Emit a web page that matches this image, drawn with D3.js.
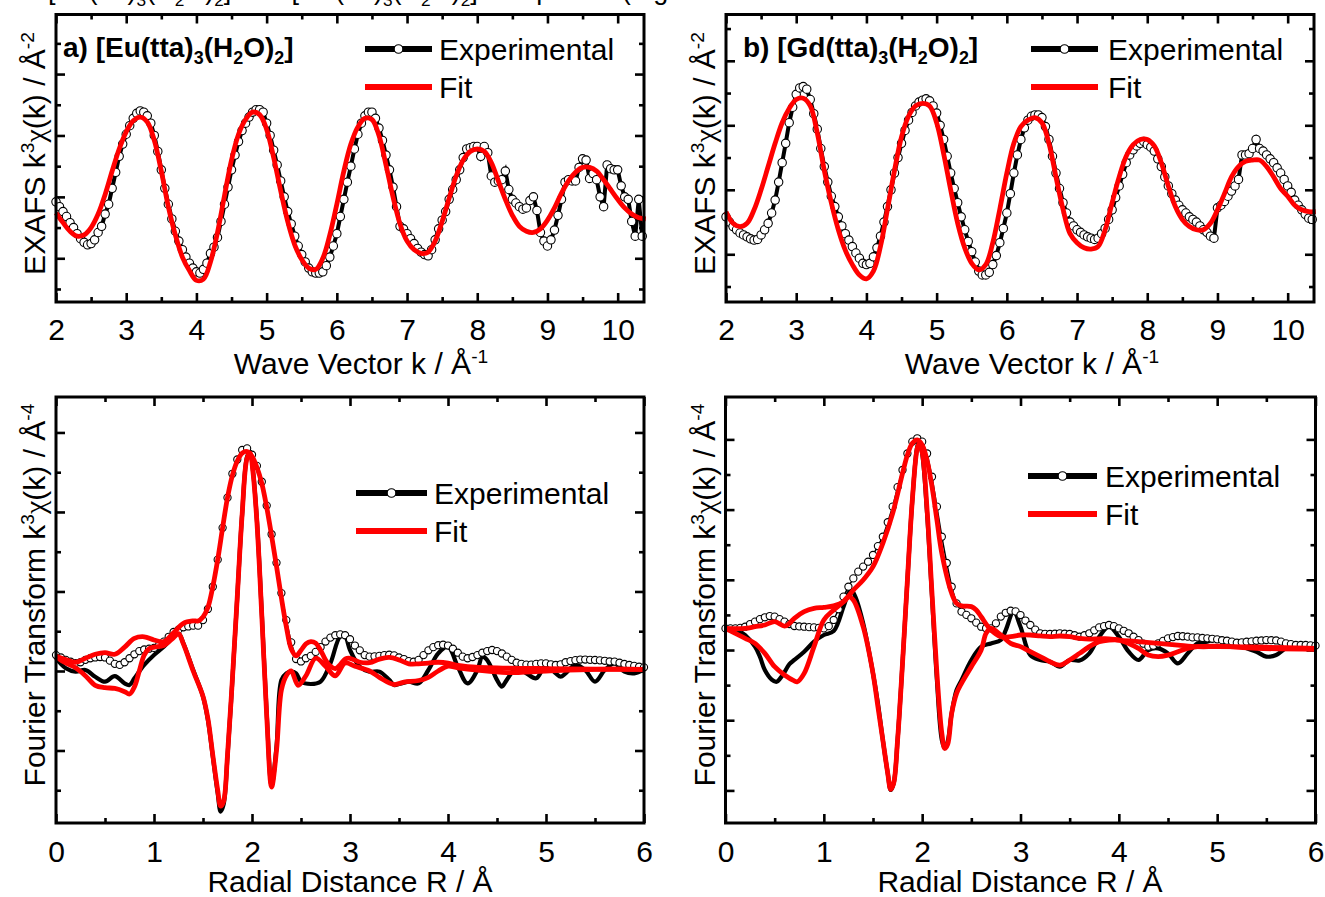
<!DOCTYPE html>
<html>
<head>
<meta charset="utf-8">
<script src="https://cdn.jsdelivr.net/npm/d3@7/dist/d3.min.js"></script>
<style>
  body { margin: 0; background: #fff; }
  svg text { font-family: "Liberation Sans", Arial, sans-serif; fill: #000; }
</style>
</head>
<body>
<svg id="chart" width="1325" height="897"></svg>
<script>
// ---------- data ----------
// EXAFS, k grid: experimental every 0.05 from 2.00, fit every 0.1 from 2.0
const kStart = 2.0, kExpStep = 0.05, kFitStep = 0.1;
const kTicks = [2, 3, 4, 5, 6, 7, 8, 9, 10];
const rTicks = [0, 1, 2, 3, 4, 5, 6];
const rStart = 0, rStep = 0.05;

const euChiExp = [
  -0.4,-0.8,-1.2,-1.6,-2.1,-2.5,-3.0,-3.4,-3.7,-3.9,
  -3.8,-3.5,-2.9,-2.4,-1.4,-0.6,0.7,2.0,3.3,4.3,
  5.1,5.8,6.4,6.8,7.0,6.9,6.6,6.0,5.0,3.7,
  2.2,0.7,-0.6,-1.8,-2.8,-3.6,-4.3,-4.9,-5.4,-5.8,
  -6.1,-6.2,-5.9,-5.4,-4.6,-4.1,-3.3,-2.0,-0.6,0.8,
  2.2,3.4,4.5,5.4,6.0,6.5,6.9,7.1,7.1,6.9,
  6.0,5.0,3.8,2.6,1.3,0.0,-1.2,-2.2,-3.2,-4.0,
  -4.7,-5.3,-5.8,-6.1,-6.2,-6.2,-6.1,-5.6,-4.9,-4.0,
  -3.0,-1.6,-0.2,1.2,2.5,3.9,5.1,6.0,6.6,6.9,
  6.9,6.4,5.6,4.6,3.4,2.2,0.8,-0.8,-2.4,-2.6,
  -3.0,-3.4,-3.8,-4.2,-4.5,-4.7,-4.8,-4.3,-3.5,-2.6,
  -1.9,-1.2,-0.2,0.6,1.4,2.2,3.2,3.9,4.0,4.1,
  4.1,3.3,4.1,3.6,1.7,1.2,1.3,1.4,2.1,0.6,
  -0.2,-0.5,-0.8,-1.0,-0.9,-0.3,0.0,-1.1,-2.9,-3.6,
  -4.0,-3.5,-2.7,-1.5,-0.2,1.2,1.4,1.3,1.3,2.4,
  3.1,3.0,1.5,1.9,1.4,0.0,-0.8,2.6,2.3,2.2,
  2.2,0.9,0.0,-0.2,-2.0,-3.2,-0.2,-3.2
];
const euChiFit = [
  -1.3,-2.1,-2.8,-3.2,-3.1,-2.5,-1.4,0.2,2.1,3.9,
  5.3,6.2,6.5,6.1,4.6,2.1,-0.8,-3.1,-4.9,-6.0,
  -6.8,-6.7,-5.3,-2.9,0.1,3.0,5.1,6.3,6.9,6.7,
  5.5,3.2,0.5,-2.0,-3.9,-5.1,-5.8,-5.9,-5.0,-3.1,
  -0.6,2.1,4.3,5.7,6.4,6.3,5.0,2.6,0.0,-2.2,
  -3.6,-4.3,-4.6,-4.5,-3.6,-2.0,-0.1,1.7,3.0,3.7,
  3.9,3.7,2.8,1.3,-0.2,-1.5,-2.4,-2.8,-2.9,-2.6,
  -1.9,-0.9,0.3,1.3,2.0,2.4,2.4,2.1,1.4,0.6,
  -0.2,-0.9,-1.4,-1.7,-1.8
];
const gdChiExp = [
  -2.1,-2.5,-2.85,-3.1,-3.35,-3.5,-3.65,-3.8,-3.9,-3.85,
  -3.5,-3.1,-2.6,-1.8,-0.8,0.6,2.1,3.6,5.2,6.4,
  7.4,7.9,8.0,7.8,7.0,5.9,4.7,3.2,1.8,0.6,
  -0.5,-1.3,-2.1,-2.8,-3.4,-3.9,-4.4,-4.9,-5.3,-5.7,
  -5.8,-5.7,-5.2,-4.5,-3.6,-2.5,-1.3,0.0,1.3,2.5,
  3.6,4.6,5.4,6.0,6.5,6.8,6.95,7.05,6.9,6.5,
  5.95,5.0,3.9,2.6,1.3,0.1,-1.0,-2.1,-3.1,-4.0,
  -4.8,-5.6,-6.3,-6.6,-6.6,-6.4,-5.8,-5.1,-4.1,-3.0,
  -1.8,-0.3,1.3,2.7,3.9,4.8,5.4,5.7,5.8,5.8,
  5.6,4.9,3.9,2.6,1.3,0.1,-1.0,-1.8,-2.5,-2.8,
  -3.1,-3.3,-3.5,-3.65,-3.75,-3.85,-3.75,-3.4,-3.0,-2.3,
  -1.55,-0.6,0.3,1.2,2.1,2.7,3.1,3.4,3.6,3.75,
  3.5,3.3,3.0,2.4,1.8,1.0,0.3,-0.3,-0.8,-1.2,
  -1.55,-1.8,-2.1,-2.3,-2.5,-2.8,-3.1,-3.3,-3.6,-3.75,
  -1.4,-1.2,-0.9,-0.5,-0.1,0.3,0.8,2.7,2.7,2.8,
  3.2,3.9,3.2,3.0,2.7,2.4,2.1,1.7,1.3,0.8,
  0.3,-0.2,-0.8,-1.2,-1.55,-1.9,-2.2,-2.3
];
const gdChiFit = [
  -1.7,-2.6,-2.85,-2.6,-1.55,0.0,1.8,3.6,5.2,6.3,
  7.0,7.1,6.5,4.4,1.5,-1.0,-3.1,-4.7,-5.8,-6.6,
  -6.9,-6.3,-4.4,-1.5,1.5,4.1,5.7,6.5,6.7,6.5,
  5.2,2.8,0.0,-2.6,-4.5,-5.7,-6.2,-5.8,-4.1,-1.5,
  1.3,3.6,4.9,5.4,5.6,5.2,3.6,1.0,-1.5,-3.4,
  -4.1,-4.5,-4.6,-4.4,-3.1,-1.0,1.0,2.6,3.5,3.9,
  3.9,3.4,2.1,0.3,-1.3,-2.3,-2.85,-3.1,-3.1,-2.6,
  -1.55,-0.3,1.0,1.8,2.2,2.3,2.3,1.8,1.0,0.1,
  -0.5,-1.2,-1.55,-1.7,-1.7
];

// Fourier transforms: experimental magnitude every 0.05 from R = 0
const euFtMag = [
  1.00,0.85,0.70,0.58,0.50,0.55,0.70,0.80,0.85,0.88,
  0.85,0.65,0.45,0.38,0.55,0.80,1.05,1.25,1.35,1.40,
  1.45,1.60,1.85,2.15,2.45,2.60,2.75,2.80,2.85,2.85,
  3.20,3.90,5.30,7.00,9.00,10.9,12.4,13.3,13.9,14.0,
  13.6,12.9,11.9,10.4,8.6,6.8,4.9,3.2,1.8,0.75,
  0.60,0.80,0.95,1.20,1.50,1.85,2.10,2.25,2.30,2.25,
  2.00,1.60,1.30,1.00,0.90,0.92,0.95,1.00,1.02,0.98,
  0.85,0.75,0.62,0.58,0.70,1.00,1.30,1.50,1.62,1.65,
  1.60,1.40,1.15,0.90,0.80,0.88,1.00,1.15,1.25,1.32,
  1.25,1.10,0.90,0.70,0.52,0.45,0.40,0.40,0.45,0.48,
  0.48,0.42,0.38,0.42,0.55,0.62,0.68,0.72,0.72,0.70,
  0.69,0.67,0.64,0.60,0.59,0.52,0.44,0.38,0.32,0.27,
  0.23
];
// imaginary parts and fits as [R, value] pairs
const euFtIm = [[0,0.8],[0.1,0.17],[0.2,-0.04],[0.3,0.06],[0.4,-0.36],[0.5,-0.67],[0.6,-0.32],[0.7,-0.78],[0.75,-0.88],[0.8,-0.46],[0.9,0.38],[1.0,1.01],[1.1,1.53],[1.2,2.16],[1.25,2.37],[1.3,1.74],[1.4,0.06],[1.5,-1.61],[1.55,-3.08],[1.6,-5.38],[1.65,-7.69],[1.68,-8.84],[1.71,-8.4],[1.75,-5.38],[1.8,-0.56],[1.85,4.68],[1.9,9.92],[1.95,13.48],[1.98,13.8],[2.01,12.6],[2.05,9.5],[2.1,3.63],[2.15,-2.66],[2.2,-7.2],[2.25,-4.76],[2.3,-0.56],[2.35,-0.15],[2.4,-0.04],[2.45,-0.15],[2.5,-0.67],[2.6,-0.82],[2.7,-0.67],[2.8,0.48],[2.9,2.16],[2.95,2.16],[3.0,1.32],[3.1,0.27],[3.2,-0.04],[3.3,-0.04],[3.4,-0.56],[3.45,-0.88],[3.5,-0.82],[3.6,-0.67],[3.7,-0.78],[3.8,0.06],[3.9,1.11],[4.0,1.53],[4.1,0.27],[4.2,-0.78],[4.3,0.06],[4.35,0.9],[4.4,0.69],[4.5,-0.56],[4.55,-0.98],[4.6,-0.56],[4.7,0.17],[4.8,-0.15],[4.9,-0.46],[5.0,0.38],[5.1,-0.15],[5.15,-0.36],[5.2,-0.15],[5.3,0.38],[5.4,0.06],[5.5,-0.67],[5.6,0.06],[5.7,0.48],[5.8,-0.04],[5.9,-0.15],[6.0,0.1]];
const euFitMag = [[0,0.95],[0.1,0.72],[0.2,0.55],[0.3,0.8],[0.4,1.05],[0.5,1.15],[0.6,1.05],[0.7,1.5],[0.8,2.05],[0.9,2.15],[1.0,1.95],[1.1,1.85],[1.2,2.4],[1.3,3.0],[1.4,3.15],[1.45,3.15],[1.5,3.4],[1.55,4.0],[1.6,5.3],[1.65,7.0],[1.7,9.0],[1.75,10.9],[1.8,12.3],[1.85,13.2],[1.9,13.7],[1.95,13.8],[2.0,13.5],[2.05,12.8],[2.1,11.8],[2.15,10.3],[2.2,8.5],[2.25,6.6],[2.3,4.6],[2.35,2.8],[2.4,1.4],[2.45,0.95],[2.5,1.3],[2.55,1.7],[2.6,1.85],[2.65,1.75],[2.7,1.3],[2.75,0.7],[2.8,0.3],[2.85,0.15],[2.9,0.4],[2.95,0.75],[3.0,0.8],[3.1,0.55],[3.2,0.52],[3.3,0.75],[3.4,0.85],[3.5,0.7],[3.6,0.45],[3.7,0.45],[3.8,0.5],[3.9,0.55],[4.0,0.5],[4.1,0.35],[4.2,0.28],[4.5,0.2],[5.0,0.15],[5.5,0.12],[6.0,0.1]];
const euFitIm = [[0,0.9],[0.1,0.5],[0.2,0.2],[0.3,-0.3],[0.4,-0.9],[0.5,-1.05],[0.6,-1.1],[0.7,-1.3],[0.75,-1.45],[0.8,-1.0],[0.85,0.0],[0.9,1.0],[0.95,1.4],[1.0,1.5],[1.1,1.6],[1.2,2.1],[1.25,2.35],[1.3,1.7],[1.4,0.0],[1.5,-1.6],[1.55,-3.0],[1.6,-5.3],[1.65,-7.5],[1.68,-8.5],[1.71,-8.2],[1.75,-5.3],[1.8,-0.5],[1.85,4.7],[1.9,9.9],[1.95,13.4],[1.98,13.7],[2.01,12.5],[2.05,9.4],[2.1,3.5],[2.15,-2.8],[2.2,-7.3],[2.25,-5.0],[2.3,-1.2],[2.35,-0.3],[2.4,0.0],[2.47,-0.9],[2.55,-0.3],[2.65,0.8],[2.75,0.3],[2.85,-0.3],[2.95,0.5],[3.05,0.3],[3.2,0.0],[3.3,-0.4],[3.45,-0.85],[3.55,-0.7],[3.7,-0.6],[3.8,-0.4],[3.9,0.0],[4.0,0.3],[4.1,0.2],[4.3,0.05],[4.6,-0.1],[5.0,0.0],[5.5,0.1],[6.0,0.1]];

const gdFtMag = [
  1.54,1.54,1.54,1.58,1.66,1.85,2.02,2.2,2.33,2.42,
  2.38,2.2,2.02,1.85,1.71,1.68,1.66,1.63,1.61,1.58,
  1.54,1.7,2.14,2.9,3.8,4.51,5.1,5.58,5.94,6.29,
  6.77,7.4,8.07,9.1,10.21,11.6,12.82,14.0,14.84,15.08,
  14.84,14.0,12.34,10.21,8.07,6.2,4.51,3.32,2.73,2.5,
  2.26,1.95,1.66,1.55,1.54,1.9,2.38,2.65,2.80,2.75,
  2.49,2.1,1.78,1.45,1.19,1.15,1.14,1.16,1.19,1.16,
  1.14,1.05,0.95,1.05,1.19,1.4,1.61,1.7,1.78,1.7,
  1.54,1.37,1.19,0.95,0.71,0.45,0.24,0.3,0.47,0.65,
  0.83,0.92,1.0,0.98,0.95,0.9,0.9,0.86,0.83,0.8,
  0.76,0.7,0.66,0.6,0.52,0.55,0.59,0.62,0.66,0.68,
  0.71,0.7,0.68,0.6,0.47,0.42,0.36,0.36,0.36,0.33,
  0.31
];
const gdFtIm = [[0,1.54],[0.1,1.47],[0.2,1.07],[0.3,0.24],[0.35,-0.47],[0.4,-1.42],[0.47,-2.1],[0.52,-2.26],[0.58,-1.8],[0.65,-1.0],[0.7,-0.71],[0.8,-0.12],[0.9,0.59],[1.0,1.07],[1.1,1.35],[1.2,3.09],[1.25,4.04],[1.28,4.27],[1.32,3.8],[1.4,1.9],[1.5,-1.66],[1.55,-3.8],[1.6,-6.41],[1.65,-8.78],[1.68,-9.97],[1.71,-9.5],[1.75,-6.41],[1.8,-0.95],[1.85,4.99],[1.9,10.68],[1.95,14.48],[1.97,14.84],[2.0,14.0],[2.05,9.73],[2.1,3.8],[2.15,-2.14],[2.2,-6.41],[2.23,-7.0],[2.26,-6.5],[2.3,-4.51],[2.35,-2.85],[2.4,-2.14],[2.5,-0.71],[2.6,0.24],[2.7,0.47],[2.8,0.71],[2.85,1.42],[2.93,2.73],[3.0,1.66],[3.1,-0.36],[3.2,-0.71],[3.3,-0.83],[3.4,-1.19],[3.5,-0.71],[3.6,-0.75],[3.7,-0.24],[3.8,0.95],[3.9,1.66],[4.0,0.95],[4.1,-0.12],[4.2,-0.71],[4.3,0.0],[4.4,0.12],[4.5,-0.24],[4.6,-0.95],[4.7,-0.24],[4.8,0.47],[4.9,0.59],[5.0,0.83],[5.1,0.71],[5.2,0.36],[5.3,0.12],[5.4,-0.12],[5.5,-0.47],[5.6,-0.36],[5.7,0.12],[5.8,0.24],[6.0,0.24]];
const gdFitMag = [[0,1.54],[0.2,1.54],[0.3,1.66],[0.4,1.78],[0.5,2.02],[0.6,1.7],[0.65,1.9],[0.7,2.26],[0.8,2.73],[0.9,2.97],[1.0,3.04],[1.1,3.14],[1.2,3.44],[1.3,4.27],[1.4,4.99],[1.5,5.94],[1.6,7.6],[1.7,9.73],[1.8,12.58],[1.85,13.89],[1.9,14.72],[1.95,14.96],[2.0,14.6],[2.05,13.5],[2.1,11.63],[2.15,9.26],[2.2,6.89],[2.3,4.04],[2.35,3.32],[2.4,3.14],[2.5,3.09],[2.55,2.85],[2.6,2.37],[2.7,1.42],[2.8,0.95],[2.9,0.95],[3.0,1.07],[3.1,1.07],[3.2,1.0],[3.3,0.95],[3.4,1.0],[3.5,0.95],[3.6,0.83],[3.7,0.77],[3.8,0.8],[3.9,0.8],[4.0,0.71],[4.2,0.6],[4.4,0.47],[4.6,0.35],[4.8,0.24],[5.0,0.24],[5.5,0.2],[6.0,0.12]];
const gdFitIm = [[0,1.54],[0.1,1.19],[0.2,0.83],[0.3,0.47],[0.4,-0.24],[0.5,-1.19],[0.6,-1.78],[0.7,-2.2],[0.73,-2.26],[0.8,-1.66],[0.9,0.24],[1.0,2.14],[1.1,2.85],[1.2,3.44],[1.25,3.8],[1.3,3.56],[1.4,1.66],[1.5,-1.66],[1.55,-4.04],[1.6,-6.41],[1.65,-8.78],[1.68,-9.92],[1.71,-9.5],[1.75,-6.41],[1.8,-0.95],[1.85,4.99],[1.9,10.68],[1.95,14.37],[1.97,14.7],[2.0,14.1],[2.05,9.97],[2.1,4.04],[2.15,-1.66],[2.2,-5.94],[2.23,-7.0],[2.26,-6.7],[2.3,-4.51],[2.35,-3.09],[2.4,-2.37],[2.5,-1.19],[2.6,0.0],[2.65,1.19],[2.7,1.54],[2.8,1.07],[2.9,0.47],[3.0,0.24],[3.1,-0.12],[3.2,-0.47],[3.3,-0.83],[3.4,-1.07],[3.5,-0.71],[3.6,-0.24],[3.7,0.24],[3.8,0.59],[3.9,0.71],[4.0,0.71],[4.1,0.47],[4.2,0.12],[4.3,-0.36],[4.4,-0.47],[4.5,-0.36],[4.6,-0.12],[4.7,0.12],[4.8,0.24],[5.0,0.28],[5.4,0.12],[6.0,0.05]];

const legendNames = ["Experimental", "Fit"];

// ---------- drawing ----------
const svg = d3.select("#chart");
const RED = "#ff0000";

// text with super/subscripts: parts = [[text, +1 sup | -1 sub | 0, optional font]]
function rich(sel, parts, size) {
  let cur = 0;
  parts.forEach(([t, s, font]) => {
    const target = s === 1 ? -0.36 * size : s === -1 ? 0.25 * size : 0;
    const ts = sel.append("tspan")
      .attr("dy", target - cur)
      .attr("font-size", s ? size * 0.64 : size)
      .text(t);
    if (font) ts.attr("font-family", font);
    cur = target;
  });
  return sel;
}

function gridOf(start, step, vals) {
  return vals.map((v, i) => [start + i * step, v]);
}

function drawPanel(p) {
  const g = svg.append("g");
  const x = d3.scaleLinear().domain(p.xDomain).range([p.left, p.right]);
  const y = d3.scaleLinear().domain(p.yDomain).range([p.bottom, p.top]);

  const ax = (axis, tr, size) => g.append("g")
    .attr("transform", tr)
    .call(axis.tickSize(size))
    .call(s => s.select(".domain").remove())
    .call(s => s.selectAll(".tick line").attr("stroke", "#000").attr("stroke-width", 2.6));

  const xMinor = d3.range(p.xTicks[0] + 0.5, p.xDomain[1], 1);
  // bottom axis with labels
  ax(d3.axisBottom(x).tickValues(p.xTicks).tickPadding(p.labelPad).tickFormat(d3.format("d")),
     `translate(0,${p.bottom})`, -9)
    .selectAll("text").attr("font-size", 30).attr("font-family", "Liberation Sans, Arial, sans-serif");
  ax(d3.axisBottom(x).tickValues(xMinor).tickFormat(""), `translate(0,${p.bottom})`, -5);
  ax(d3.axisTop(x).tickValues(p.xTicks).tickFormat(""), `translate(0,${p.top})`, -9);
  ax(d3.axisTop(x).tickValues(xMinor).tickFormat(""), `translate(0,${p.top})`, -5);
  ax(d3.axisLeft(y).tickValues(p.yMajor).tickFormat(""), `translate(${p.left},0)`, -9);
  ax(d3.axisLeft(y).tickValues(p.yMinor).tickFormat(""), `translate(${p.left},0)`, -5);
  ax(d3.axisRight(y).tickValues(p.yMajor).tickFormat(""), `translate(${p.right},0)`, -9);
  ax(d3.axisRight(y).tickValues(p.yMinor).tickFormat(""), `translate(${p.right},0)`, -5);

  const straight = d3.line().x(d => x(d[0])).y(d => y(d[1]));
  const smooth = d3.line().x(d => x(d[0])).y(d => y(d[1])).curve(d3.curveCatmullRom.alpha(0.5));

  (p.blackLines || []).forEach(l => g.append("path").attr("d", smooth(l))
    .attr("fill", "none").attr("stroke", "#000").attr("stroke-width", 4.2));

  g.append("path").attr("d", straight(p.exp)).attr("fill", "none")
    .attr("stroke", "#000").attr("stroke-width", p.expWidth);
  g.selectAll(null).data(p.exp).join("circle")
    .attr("cx", d => x(d[0])).attr("cy", d => y(d[1])).attr("r", p.r)
    .attr("fill", "#fff").attr("stroke", "#000").attr("stroke-width", 1.1);

  p.fits.forEach(l => g.append("path").attr("d", smooth(l))
    .attr("fill", "none").attr("stroke", RED).attr("stroke-width", 4.8)
    .attr("stroke-linejoin", "round"));

  g.append("rect")
    .attr("x", p.left).attr("y", p.top)
    .attr("width", p.right - p.left).attr("height", p.bottom - p.top)
    .attr("fill", "none").attr("stroke", "#000").attr("stroke-width", 3);

  // legend
  const L = p.legend;
  g.append("line").attr("x1", L.x1).attr("x2", L.x2).attr("y1", L.y).attr("y2", L.y)
    .attr("stroke", "#000").attr("stroke-width", 6);
  g.append("circle").attr("cx", (L.x1 + L.x2) / 2).attr("cy", L.y).attr("r", 4.3)
    .attr("fill", "#fff").attr("stroke", "#000").attr("stroke-width", 1.1);
  g.append("line").attr("x1", L.x1).attr("x2", L.x2).attr("y1", L.y + L.gap).attr("y2", L.y + L.gap)
    .attr("stroke", RED).attr("stroke-width", 6);
  legendNames.forEach((name, i) => g.append("text")
    .attr("x", L.tx).attr("y", L.y + 11 + i * L.gap).attr("font-size", 30).text(name));

  // axis titles
  rich(g.append("text").attr("text-anchor", "middle")
    .attr("transform", `translate(${p.yLab[0]},${p.yLab[1]}) rotate(-90)`), p.yTitle, 30);
  rich(g.append("text").attr("text-anchor", "middle")
    .attr("x", p.xLab[0]).attr("y", p.xLab[1]), p.xTitle, 30);

  if (p.title) {
    rich(g.append("text").attr("x", p.title.x).attr("y", 57)
      .attr("font-family", "Lato, 'Open Sans', sans-serif").attr("font-weight", "bold"),
      p.title.parts, 28);
  }
}

const CHI = "Liberation Serif, serif";
const exafsY = [["EXAFS k", 0], ["3", 1], ["\u03c7", 0, CHI], ["(k) / \u00c5", 0], ["-2", 1]];
const ftY = [["Fourier Transform k", 0], ["3", 1], ["\u03c7", 0, CHI], ["(k) / \u00c5", 0], ["-4", 1]];
const kX = [["Wave Vector k / \u00c5", 0], ["-1", 1]];
const rX = [["Radial Distance R / \u00c5", 0]];

drawPanel({
  left: 56, right: 644, top: 14.5, bottom: 302, xDomain: [2, 10.375], yDomain: [-8.56, 14.85],
  xTicks: kTicks, yMajor: [-5, 0, 5, 10], yMinor: [-7.5, -2.5, 2.5, 7.5, 12.5], labelPad: 17,
  exp: gridOf(kStart, kExpStep, euChiExp), expWidth: 4, r: 4.2,
  fits: [gridOf(kStart, kFitStep, euChiFit)],
  legend: { x1: 365, x2: 432, y: 49, gap: 38, tx: 439 },
  yTitle: exafsY, yLab: [45, 153.5], xTitle: kX, xLab: [361, 374],
  title: { x: 63, parts: [["a) [Eu(tta)", 0], ["3", -1], ["(H", 0], ["2", -1], ["O)", 0], ["2", -1], ["]", 0]] }
});
drawPanel({
  left: 726, right: 1314, top: 14.5, bottom: 302, xDomain: [2, 10.375], yDomain: [-8.70, 13.59],
  xTicks: kTicks, yMajor: [-5, 0, 5, 10], yMinor: [-7.5, -2.5, 2.5, 7.5, 12.5], labelPad: 17,
  exp: gridOf(kStart, kExpStep, gdChiExp), expWidth: 4, r: 4.2,
  fits: [gridOf(kStart, kFitStep, gdChiFit)],
  legend: { x1: 1031, x2: 1098, y: 49, gap: 38, tx: 1108 },
  yTitle: exafsY, yLab: [714.5, 153.5], xTitle: kX, xLab: [1032, 374],
  title: { x: 743, parts: [["b) [Gd(tta)", 0], ["3", -1], ["(H", 0], ["2", -1], ["O)", 0], ["2", -1], ["]", 0]] }
});
drawPanel({
  left: 56, right: 644, top: 397, bottom: 823, xDomain: [0, 6], yDomain: [-9.56, 17.23],
  xTicks: rTicks, yMajor: [-5, 0, 5, 10, 15], yMinor: [-7.5, -2.5, 2.5, 7.5, 12.5], labelPad: 17.5,
  exp: gridOf(rStart, rStep, euFtMag), expWidth: 1.5, r: 3.6,
  blackLines: [euFtIm],
  fits: [euFitIm, euFitMag],
  legend: { x1: 356, x2: 427, y: 493, gap: 38, tx: 434 },
  yTitle: ftY, yLab: [45, 595], xTitle: rX, xLab: [350, 892]
});
drawPanel({
  left: 725.5, right: 1315.5, top: 397, bottom: 823, xDomain: [0, 6], yDomain: [-12.32, 18.02],
  xTicks: rTicks, yMajor: [-10, -5, 0, 5, 10, 15], yMinor: [-7.5, -2.5, 2.5, 7.5, 12.5], labelPad: 17.5,
  exp: gridOf(rStart, rStep, gdFtMag), expWidth: 1.5, r: 3.6,
  blackLines: [gdFtIm],
  fits: [gdFitIm, gdFitMag],
  legend: { x1: 1028, x2: 1097, y: 476, gap: 38, tx: 1105 },
  yTitle: ftY, yLab: [714.5, 595], xTitle: rX, xLab: [1020, 892]
});

// clipped caption line from the page above the figure (only its lower edge shows)
rich(svg.append("text").attr("x", 48).attr("y", -1)
  .attr("font-family", "Liberation Serif, serif"),
  [["[Eu(tta)", 0], ["3", -1], ["(H", 0], ["2", -1], ["O)", 0], ["2", -1], ["] and [Gd(tta)", 0], ["3", -1], ["(H", 0], ["2", -1], ["O)", 0], ["2", -1], ["] complexes (Fig.", 0]], 27);
</script>
</body>
</html>
